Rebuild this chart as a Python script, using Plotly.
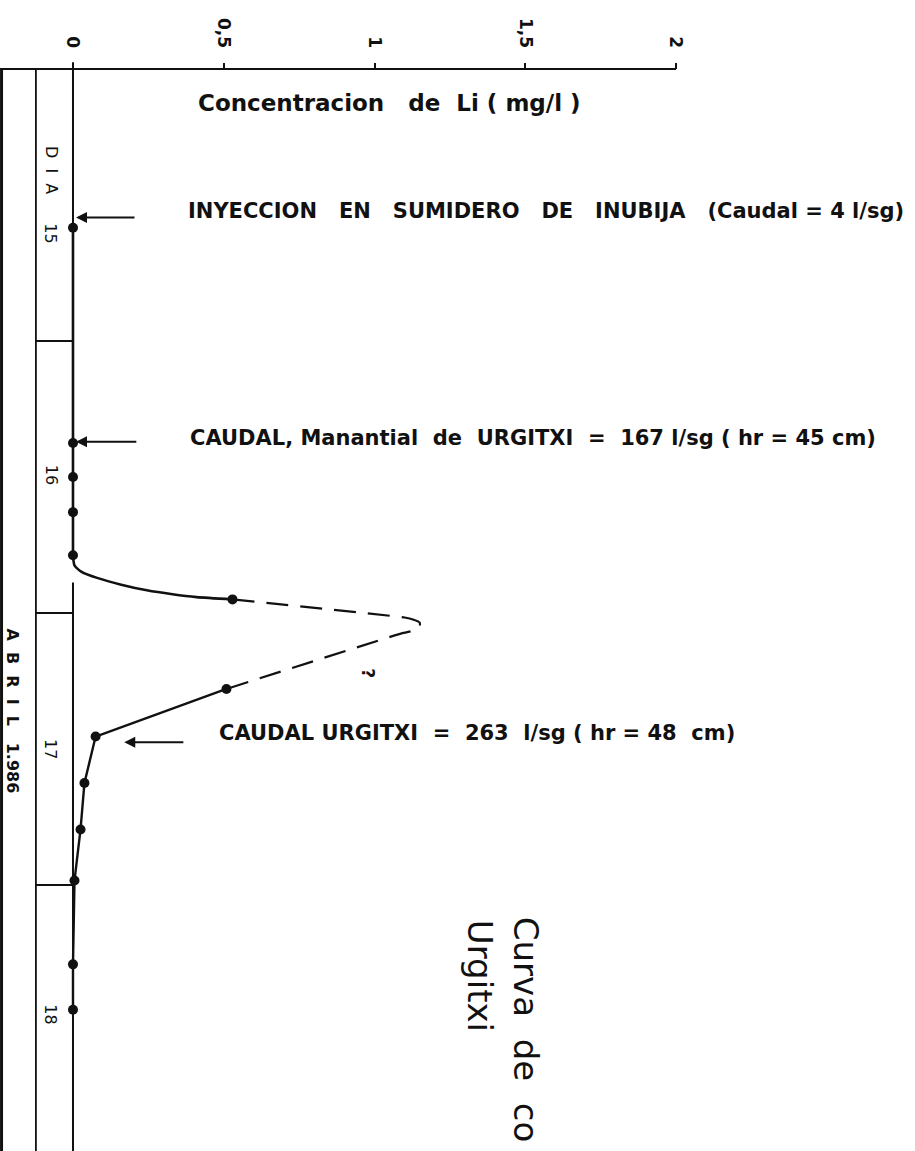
import plotly.graph_objects as go

# ---- data ----
# hours since 15 April 1986 00:00, Li concentration in mg/l
hours = [14.0, 33.0, 36.0, 39.1, 42.9, 46.8, 54.7, 58.9, 63.0, 67.1, 71.6, 79.0, 83.0]
li = [0, 0, 0, 0, 0, 0.529, 0.509, 0.075, 0.038, 0.025, 0.005, 0, 0]

# hand-drawn rising limb (solid)
rise_hours = [42.9, 43.8, 44.4, 44.9, 45.5, 46.0, 46.35, 46.6, 46.8]
rise_li = [0, 0.005, 0.03, 0.08, 0.16, 0.245, 0.33, 0.41, 0.529]

# inferred peak (dashed)
peak_hours = [46.8, 48.4, 48.6, 48.85, 49.25, 49.55, 49.8, 54.7]
peak_li = [0.529, 1.10, 1.13, 1.15, 1.15, 1.13, 1.09, 0.509]

day_numbers = ["15", "16", "17", "18"]
day_label_hours = [14.5, 35.8, 60.0, 83.4]
day_bounds = [24, 48, 72]

tick_vals = [0, 0.5, 1, 1.5, 2]
tick_text = ["0", "0,5", "1", "1,5", "2"]

notes = [
    "INYECCION   EN   SUMIDERO   DE   INUBIJA   (Caudal = 4 l/sg)",
    "CAUDAL, Manantial  de  URGITXI  =  167 l/sg ( hr = 45 cm)",
    "CAUDAL URGITXI  =  263  l/sg ( hr = 48  cm)",
]
note_hours = [12.5, 32.6, 58.6]
note_li = [0.375, 0.381, 0.478]
arrow_hours = [13.1, 32.9, 59.4]
arrow_head_li = [0.01, 0.01, 0.17]
arrow_tail_li = [0.209, 0.215, 0.371]

INK = "#111111"
FONT = "DejaVu Sans"

X0, X1 = -0.2421, 2.7927
Y_TOP, Y_BOT = -6.088, 95.47

fig = go.Figure()

# solid line along zero + rising limb
fig.add_trace(go.Scatter(x=li[:5], y=hours[:5], mode="lines",
                         line=dict(color=INK, width=2.6), hoverinfo="skip"))
fig.add_trace(go.Scatter(x=rise_li, y=rise_hours, mode="lines",
                         line=dict(color=INK, width=2.6, shape="spline", smoothing=0.6),
                         hoverinfo="skip"))
# dashed inferred peak
fig.add_trace(go.Scatter(x=peak_li, y=peak_hours, mode="lines",
                         line=dict(color=INK, width=2.2, dash="22px,12px", shape="spline", smoothing=0.4),
                         hoverinfo="skip"))
# falling limb solid
fig.add_trace(go.Scatter(x=li[6:], y=hours[6:], mode="lines",
                         line=dict(color=INK, width=2.4), hoverinfo="skip"))
# measured points
fig.add_trace(go.Scatter(x=li, y=hours, mode="markers",
                         marker=dict(color=INK, size=10), hoverinfo="skip"))

shapes = []
# top axis line
shapes.append(dict(type="line", xref="x", yref="y", x0=X0, x1=2, y0=0, y1=0,
                   line=dict(color=INK, width=2.2)))
# left border, strip separator
shapes.append(dict(type="line", xref="x", yref="y", x0=-0.237, x1=-0.237, y0=0, y1=Y_BOT,
                   line=dict(color=INK, width=3)))
shapes.append(dict(type="line", xref="x", yref="y", x0=-0.123, x1=-0.123, y0=0, y1=Y_BOT,
                   line=dict(color=INK, width=1.8)))
# zero line (with small gap where the curve leaves it)
shapes.append(dict(type="line", xref="x", yref="y", x0=0, x1=0, y0=-0.6, y1=43.3,
                   line=dict(color=INK, width=2)))
shapes.append(dict(type="line", xref="x", yref="y", x0=0, x1=0, y0=45.3, y1=Y_BOT,
                   line=dict(color=INK, width=2)))
for b in day_bounds:
    shapes.append(dict(type="line", xref="x", yref="y", x0=-0.123, x1=0, y0=b, y1=b,
                       line=dict(color=INK, width=2)))

ann = []
ann.append(dict(x=0.408, y=3.0, xref="x", yref="y", text="Concentracion   de  Li ( mg/l )",
                showarrow=False, xanchor="left", yanchor="middle",
                font=dict(family=FONT, size=23, color=INK, weight="bold")))
for t, h, xl in zip(notes, note_hours, note_li):
    ann.append(dict(x=xl, y=h, xref="x", yref="y", text=t, showarrow=False,
                    xanchor="left", yanchor="middle",
                    font=dict(family=FONT, size=21, color=INK, weight="bold")))
for h, xh, xt in zip(arrow_hours, arrow_head_li, arrow_tail_li):
    ann.append(dict(x=xh, y=h, ax=xt, ay=h, xref="x", yref="y", axref="x", ayref="y",
                    text="", showarrow=True, arrowhead=2, arrowsize=1.1, arrowwidth=2,
                    arrowcolor=INK, standoff=0))
# day strip labels
ann.append(dict(x=-0.073, y=8.9, xref="x", yref="y", text="D  I  A", showarrow=False,
                textangle=90, font=dict(family=FONT, size=16, color=INK)))
for d, h in zip(day_numbers, day_label_hours):
    ann.append(dict(x=-0.073, y=h, xref="x", yref="y", text=d, showarrow=False,
                    textangle=90, font=dict(family=FONT, size=16, color=INK)))
ann.append(dict(x=-0.202, y=56.6, xref="x", yref="y", text="A  B  R  I  L   1.986",
                showarrow=False, textangle=90,
                font=dict(family=FONT, size=16, color=INK, weight="bold")))
# question mark near the dashed peak
ann.append(dict(x=0.978, y=53.3, xref="x", yref="y", text="?", showarrow=False,
                textangle=90, font=dict(family=FONT, size=17, color=INK, weight="bold")))
# title (rotated)
ann.append(dict(x=1.503, y=74.6, xref="x", yref="y", text="Curva  de  co", showarrow=False,
                textangle=90, xanchor="center", yanchor="top",
                font=dict(family=FONT, size=34, color=INK)))
ann.append(dict(x=1.35, y=74.9, xref="x", yref="y", text="Urgitxi", showarrow=False,
                textangle=90, xanchor="center", yanchor="top",
                font=dict(family=FONT, size=34, color=INK)))

fig.update_layout(
    width=915, height=1151,
    margin=dict(l=0, r=0, t=0, b=0),
    paper_bgcolor="white", plot_bgcolor="white",
    showlegend=False,
    shapes=shapes, annotations=ann,
    xaxis=dict(range=[X0, X1], domain=[0, 1], anchor="free", position=1 - 69 / 1151,
               side="top", tickvals=tick_vals, ticktext=tick_text, tickangle=90,
               ticks="outside", ticklen=6, tickwidth=2, tickcolor=INK,
               ticklabelstandoff=9,
               tickfont=dict(family=FONT, size=17, color=INK, weight="bold"),
               showgrid=False, zeroline=False, showline=False, fixedrange=True),
    yaxis=dict(range=[Y_BOT, Y_TOP], domain=[0, 1], visible=False,
               showgrid=False, zeroline=False, fixedrange=True),
)

fig.write_html("out.html", config={"displayModeBar": False})
